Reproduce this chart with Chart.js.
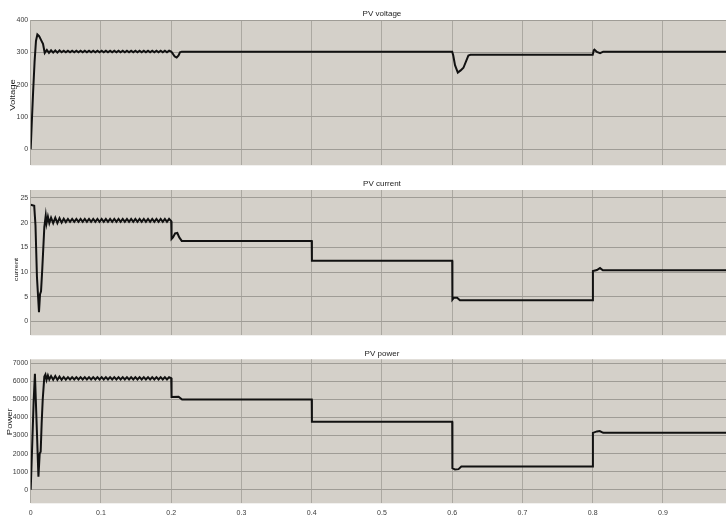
<!DOCTYPE html>
<html>
<head>
<meta charset="utf-8">
<script src="https://cdn.jsdelivr.net/npm/chart.js@4.4.1/dist/chart.umd.min.js"></script>
<style>
  html, body { margin: 0; padding: 0; background: #fff; width: 726px; height: 519px; overflow: hidden; position: relative; }
  canvas { position: absolute; left: 0; }
</style>
</head>
<body>
<canvas id="voltageChart" width="736" height="172" style="top:0px"></canvas>
<canvas id="currentChart" width="736" height="172" style="top:170px"></canvas>
<canvas id="powerChart" width="736" height="179" style="top:340px"></canvas>
<script>
// Axis ticks
const timeTicks = [0, 0.1, 0.2, 0.3, 0.4, 0.5, 0.6, 0.7, 0.8, 0.9];
const voltageTicks = [0, 100, 200, 300, 400];
const currentTicks = [0, 5, 10, 15, 20, 25];
const powerTicks = [0, 1000, 2000, 3000, 4000, 5000, 6000, 7000];

// Start-up transient (s, value)
const voltageHeadTime = [0, 0.0015, 0.0035, 0.0055, 0.0075, 0.0095, 0.012, 0.015, 0.0175, 0.020, 0.023, 0.026, 0.029, 0.032];
const voltageHead     = [0, 80, 180, 270, 335, 355, 350, 337, 326, 298, 307, 298, 306, 299];

const currentHeadTime = [0, 0.005, 0.0068, 0.0089, 0.0118, 0.0133, 0.0147, 0.0165, 0.0194, 0.0214, 0.0225, 0.0245, 0.0265, 0.029, 0.032];
const currentHead     = [23.6, 23.4, 19.5, 9, 1.9, 5.5, 6.1, 10.7, 19.1, 21.4, 19.8, 21.2, 19.9, 21.0, 19.9];

const powerHeadTime = [0, 0.002, 0.0042, 0.006, 0.0085, 0.011, 0.0128, 0.0142, 0.0156, 0.0171, 0.0194, 0.021, 0.0225, 0.0245, 0.0265, 0.029, 0.032];
const powerHead     = [0, 2300, 4900, 6420, 3600, 720, 2000, 2100, 3680, 4980, 6260, 6380, 6080, 6330, 6100, 6290, 6090];

// Converter ripple while tracking the first irradiance level
const rippleTime = [
  0.035, 0.038, 0.041, 0.044, 0.047, 0.050, 0.053, 0.056, 0.059, 0.062,
  0.065, 0.068, 0.071, 0.074, 0.077, 0.080, 0.083, 0.086, 0.089, 0.092,
  0.095, 0.098, 0.101, 0.104, 0.107, 0.110, 0.113, 0.116, 0.119, 0.122,
  0.125, 0.128, 0.131, 0.134, 0.137, 0.140, 0.143, 0.146, 0.149, 0.152,
  0.155, 0.158, 0.161, 0.164, 0.167, 0.170, 0.173, 0.176, 0.179, 0.182,
  0.185, 0.188, 0.191, 0.194, 0.197
];
const voltageRipple = [
  306, 299, 306, 300, 305, 300, 305, 300, 305, 300,
  305, 300, 305, 300, 305, 300, 305, 300, 305, 300,
  305, 300, 305, 300, 305, 300, 305, 300, 305, 300,
  305, 300, 305, 300, 305, 300, 305, 300, 305, 300,
  305, 300, 305, 300, 305, 300, 305, 300, 305, 300,
  305, 300, 305, 300, 305
];
const currentRipple = [
  21.0, 19.9, 20.9, 20.0, 20.8, 20.1, 20.75, 20.15, 20.75, 20.15,
  20.75, 20.15, 20.75, 20.15, 20.75, 20.15, 20.75, 20.15, 20.75, 20.15,
  20.75, 20.15, 20.75, 20.15, 20.75, 20.15, 20.75, 20.15, 20.75, 20.15,
  20.75, 20.15, 20.75, 20.15, 20.75, 20.15, 20.75, 20.15, 20.75, 20.15,
  20.75, 20.15, 20.75, 20.15, 20.75, 20.15, 20.75, 20.15, 20.75, 20.15,
  20.75, 20.15, 20.75, 20.15, 20.75
];
const powerRipple = [
  6290, 6080, 6260, 6090, 6240, 6090, 6230, 6100, 6230, 6100,
  6230, 6100, 6230, 6100, 6230, 6100, 6230, 6100, 6230, 6100,
  6230, 6100, 6230, 6100, 6230, 6100, 6230, 6100, 6230, 6100,
  6230, 6100, 6230, 6100, 6230, 6100, 6230, 6100, 6230, 6100,
  6230, 6100, 6230, 6100, 6230, 6100, 6230, 6100, 6230, 6100,
  6230, 6100, 6230, 6100, 6230
];

// Irradiance steps at 0.2, 0.4, 0.6 and 0.8 s
const voltageTailTime = [0.2, 0.2015, 0.205, 0.2078, 0.2105, 0.2125, 0.215, 0.6, 0.6015, 0.604, 0.608, 0.612, 0.616, 0.623, 0.626, 0.8, 0.8015, 0.8025, 0.806, 0.8105, 0.815, 1.0];
const voltageTail     = [302, 298, 287, 284, 290, 300, 302, 302, 290, 260, 237, 244, 252, 290, 292, 292, 306, 308, 301, 297, 302, 302];

const currentTailTime = [0.2, 0.2005, 0.2025, 0.2055, 0.2087, 0.2115, 0.215, 0.4, 0.4003, 0.6, 0.6003, 0.6025, 0.607, 0.611, 0.8, 0.8003, 0.806, 0.8104, 0.8145, 1.0];
const currentTail     = [20.3, 16.7, 17.0, 17.8, 17.9, 17.0, 16.3, 16.3, 12.3, 12.3, 4.4, 4.8, 4.8, 4.3, 4.3, 10.2, 10.4, 10.8, 10.35, 10.35];

const powerTailTime = [0.2, 0.2005, 0.2105, 0.2155, 0.4, 0.4003, 0.6, 0.6003, 0.604, 0.609, 0.613, 0.8, 0.8003, 0.806, 0.810, 0.815, 1.0];
const powerTail     = [6180, 5130, 5150, 4990, 4990, 3760, 3760, 1200, 1120, 1140, 1280, 1280, 3150, 3230, 3250, 3150, 3150];

function joinSeries(parts) {
  const pts = [];
  parts.forEach(([t, v]) => t.forEach((x, i) => pts.push({ x: x, y: v[i] })));
  return pts;
}

const NARROW = '"Liberation Sans Narrow", "Liberation Sans", Arial, sans-serif';
const FONT = '"Liberation Sans", Arial, sans-serif';

// Grey scope background behind the plot area
const plotBackground = {
  id: 'plotBackground',
  beforeDraw(chart) {
    const a = chart.chartArea, ctx = chart.ctx;
    ctx.save();
    ctx.fillStyle = '#d4d0c9';
    ctx.fillRect(a.left, a.top, a.right - a.left, a.bottom - a.top);
    ctx.restore();
  }
};

// Panel title above the plot and rotated quantity name on the left
const panelText = {
  id: 'panelText',
  afterDraw(chart, args, o) {
    const a = chart.chartArea, ctx = chart.ctx;
    ctx.save();
    ctx.fillStyle = '#222';
    ctx.textAlign = 'center';
    ctx.textBaseline = 'middle';
    ctx.font = '8px ' + NARROW;
    ctx.fillText(o.title, (a.left + a.right) / 2, a.top + o.titleOffset);
    ctx.translate(o.labelX, o.labelY);
    ctx.scale(0.74, 1);
    ctx.rotate(-Math.PI / 2);
    ctx.font = o.labelSize + 'px ' + FONT;
    ctx.fillText(o.label, 0, 0);
    ctx.restore();
  }
};

function makePanel(id, points, yMin, yMax, yTicks, text, padTop, xHeight, showTimeLabels) {
  return new Chart(document.getElementById(id), {
    type: 'line',
    data: {
      datasets: [{
        data: points,
        borderColor: '#111',
        borderWidth: 2,
        pointRadius: 0,
        tension: 0,
        fill: false
      }]
    },
    options: {
      responsive: false,
      animation: false,
      devicePixelRatio: 1,
      parsing: false,
      layout: { padding: { top: padTop, right: 2.8, left: 0, bottom: 0 } },
      plugins: {
        legend: { display: false },
        title: { display: false },
        tooltip: { enabled: false },
        panelText: text
      },
      scales: {
        x: {
          type: 'linear',
          min: 0,
          max: 1,
          afterBuildTicks: s => { s.ticks = timeTicks.map(v => ({ value: v })); },
          afterFit: s => { s.height = xHeight; },
          grid: { color: '#aba8a1', lineWidth: 1, drawTicks: false },
          border: { display: false },
          ticks: {
            display: showTimeLabels,
            autoSkip: false,
            maxRotation: 0,
            padding: 6,
            color: '#3a3a3a',
            font: { size: 7, family: NARROW },
            callback: v => String(v)
          }
        },
        y: {
          min: yMin,
          max: yMax,
          afterBuildTicks: s => { s.ticks = yTicks.map(v => ({ value: v })); },
          afterFit: s => { s.width = 30.7; },
          grid: { color: '#9f9c96', lineWidth: 1, drawTicks: false },
          border: { display: false },
          ticks: {
            padding: 2.5,
            color: '#3a3a3a',
            font: { size: 7, family: NARROW },
            callback: v => String(v)
          }
        }
      }
    },
    plugins: [plotBackground, panelText]
  });
}

makePanel('voltageChart',
  joinSeries([[voltageHeadTime, voltageHead], [rippleTime, voltageRipple], [voltageTailTime, voltageTail]]),
  -50, 400, voltageTicks,
  { title: 'PV voltage', titleOffset: -6, label: 'Voltage', labelX: 13, labelY: 95, labelSize: 9.5 },
  20, 1, false);

makePanel('currentChart',
  joinSeries([[currentHeadTime, currentHead], [rippleTime, currentRipple], [currentTailTime, currentTail]]),
  -2.8, 26.6, currentTicks,
  { title: 'PV current', titleOffset: -6, label: 'current', labelX: 16.3, labelY: 99.5, labelSize: 7.5 },
  20, 1, false);

makePanel('powerChart',
  joinSeries([[powerHeadTime, powerHead], [rippleTime, powerRipple], [powerTailTime, powerTail]]),
  -750, 7220, powerTicks,
  { title: 'PV power', titleOffset: -6, label: 'Power', labelX: 10, labelY: 81.7, labelSize: 9.5 },
  19.3, 15.7, true);
</script>
</body>
</html>
